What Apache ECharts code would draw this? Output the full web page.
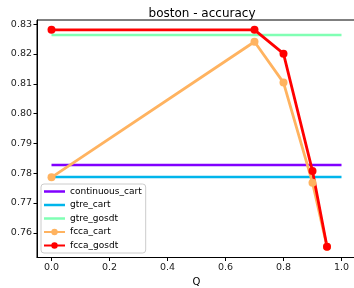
<!DOCTYPE html>
<html>
<head>
<meta charset="utf-8">
<script src="https://cdn.jsdelivr.net/npm/echarts@6/dist/echarts.min.js"></script>
<style>
  html, body { margin: 0; padding: 0; background: #fff; }
  #chart { width: 354px; height: 288px; }
</style>
</head>
<body>
<div id="chart"></div>
<script>
// values
const xTicks = [0.0, 0.2, 0.4, 0.6, 0.8, 1.0];
const yTicks = [0.76, 0.77, 0.78, 0.79, 0.80, 0.81, 0.82, 0.83];
const qSpan = [0, 1];
const qValues = [0, 0.7, 0.8, 0.9, 0.95];
const continuousCart = 0.7827;
const gtreCart = 0.7787;
const gtreGosdt = 0.8264;
const fccaCart = [0.7786, 0.8241, 0.8104, 0.7768, 0.7553];
const fccaGosdt = [0.8281, 0.8281, 0.8201, 0.7807, 0.7553];

const font = 'DejaVu Sans';
const chart = echarts.init(document.getElementById('chart'));

const flat = (name, v, color) => ({
  name, type: 'line', symbol: 'none',
  data: qSpan.map(q => [q, v]),
  lineStyle: { color, width: 2.5 }, itemStyle: { color },
  animation: false
});
const pts = (name, ys, color) => ({
  name, type: 'line', symbol: 'circle', symbolSize: 8,
  data: qValues.map((q, i) => [q, ys[i]]),
  lineStyle: { color, width: 2.8 }, itemStyle: { color },
  animation: false
});

// plain line icon for the series without markers
const lineIcon = 'path://M0,0 L21,0 L21,2.5 L0,2.5 Z';

chart.setOption({
  animation: false,
  title: {
    text: 'boston - accuracy', left: 197, top: 3, textAlign: 'center',
    textStyle: { fontFamily: font, fontSize: 12, fontWeight: 'normal', color: '#000' }
  },
  grid: {
    left: 37, top: 20, width: 319, height: 237.5, outerBoundsMode: 'none',
    show: true, borderColor: '#000', borderWidth: 1
  },
  legend: {
    orient: 'vertical', left: 41, top: 184, itemGap: 4.5, itemWidth: 21, itemHeight: 8,
    backgroundColor: '#fff', borderColor: '#ccc', borderWidth: 1, borderRadius: 3,
    padding: [3, 4, 3, 2],
    textStyle: { fontFamily: font, fontSize: 9, color: '#000' },
    data: [
      { name: 'continuous_cart', icon: lineIcon },
      { name: 'gtre_cart', icon: lineIcon },
      { name: 'gtre_gosdt', icon: lineIcon },
      'fcca_cart', 'fcca_gosdt'
    ]
  },
  xAxis: {
    type: 'value', min: -0.05, max: 1.05,
    name: 'Q', nameLocation: 'middle', nameGap: 20,
    nameTextStyle: { fontFamily: font, fontSize: 10, color: '#000' },
    axisLine: { show: true, onZero: false, lineStyle: { color: '#000' } },
    axisTick: { show: true, length: 3.5, customValues: xTicks, lineStyle: { color: '#000' } },
    axisLabel: { customValues: xTicks, formatter: v => v.toFixed(1), fontFamily: font, fontSize: 9.5, color: '#222', margin: 5 },
    splitLine: { show: false }
  },
  yAxis: {
    type: 'value', min: 0.7517, max: 0.8314,
    axisLine: { show: true, onZero: false, lineStyle: { color: '#000' } },
    axisTick: { show: true, length: 3.5, customValues: yTicks, lineStyle: { color: '#000' } },
    axisLabel: { customValues: yTicks, formatter: v => v.toFixed(2), fontFamily: font, fontSize: 9.5, color: '#222', margin: 5 },
    splitLine: { show: false }
  },
  series: [
    flat('continuous_cart', continuousCart, '#8000ff'),
    flat('gtre_cart', gtreCart, '#00b5eb'),
    flat('gtre_gosdt', gtreGosdt, '#80ffb4'),
    pts('fcca_cart', fccaCart, '#ffb360'),
    pts('fcca_gosdt', fccaGosdt, '#ff0000')
  ]
});
</script>
</body>
</html>
